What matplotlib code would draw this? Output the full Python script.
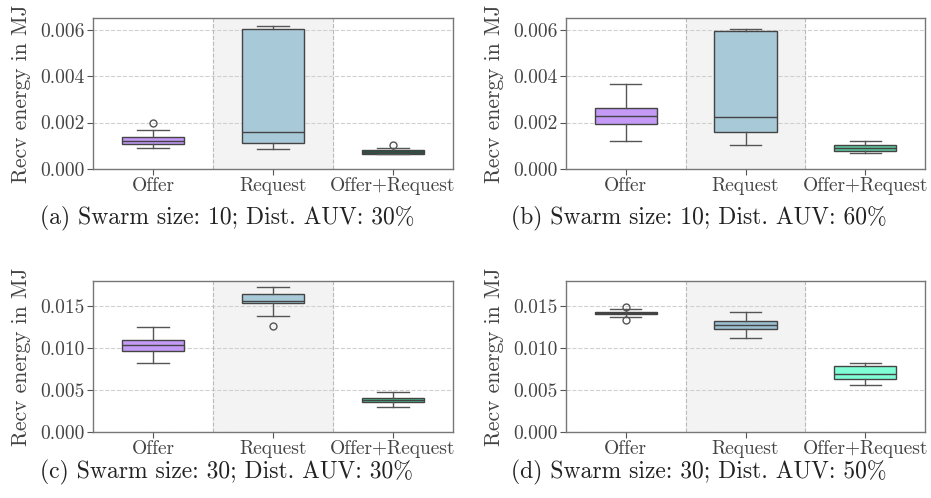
import numpy as np
import matplotlib
matplotlib.use("Agg")
from matplotlib import pyplot as plt

plt.rcParams['font.family'] = 'serif'
plt.rcParams['font.serif'] = ['cmr10']
plt.rcParams['mathtext.fontset'] = 'cm'
plt.rcParams['axes.formatter.use_mathtext'] = True

categories = ['Offer', 'Request', 'Offer+Request']
captions = ['(a) Swarm size: 10; Dist. AUV: 30%',
            '(b) Swarm size: 10; Dist. AUV: 60%',
            '(c) Swarm size: 30; Dist. AUV: 30%',
            '(d) Swarm size: 30; Dist. AUV: 50%']

# box stats per panel: Offer, Request, Offer+Request
q1_a = [0.00108, 0.00113, 0.00066]
med_a = [0.00122, 0.00159, 0.00073]
q3_a = [0.00139, 0.00603, 0.00080]
lo_a = [0.00090, 0.00085, 0.00063]
hi_a = [0.00169, 0.00617, 0.00090]
fl_a = [[0.00198], [], [0.00102]]

q1_b = [0.00194, 0.00159, 0.00079]
med_b = [0.00228, 0.00222, 0.00090]
q3_b = [0.00263, 0.00593, 0.00102]
lo_b = [0.00119, 0.00102, 0.00067]
hi_b = [0.00364, 0.00604, 0.00119]
fl_b = [[], [], []]

q1_c = [0.00964, 0.01532, 0.00357]
med_c = [0.01032, 0.01567, 0.00385]
q3_c = [0.01091, 0.01643, 0.00409]
lo_c = [0.00825, 0.01377, 0.00302]
hi_c = [0.01246, 0.01726, 0.00472]
fl_c = [[], [0.01266], []]

q1_d = [0.01405, 0.01230, 0.00631]
med_d = [0.01421, 0.01274, 0.00686]
q3_d = [0.01436, 0.01329, 0.00790]
lo_d = [0.01373, 0.01123, 0.00556]
hi_d = [0.01468, 0.01436, 0.00825]
fl_d = [[0.01496, 0.01341], [], []]

colors_a = ['#c49af6', '#a8cad8', '#1e5a45']
colors_b = ['#c49af6', '#a8cad8', '#5fc79e']
colors_c = ['#c49af6', '#a8cad8', '#4fbf8f']
colors_d = ['#3b2d5a', '#9cc0d2', '#7ffdd4']

ylims = [0.0065, 0.0065, 0.018, 0.018]
yticks_small = [0.0, 0.002, 0.004, 0.006]
yticks_big = [0.0, 0.005, 0.010, 0.015]

panels = [
    (q1_a, med_a, q3_a, lo_a, hi_a, fl_a, colors_a),
    (q1_b, med_b, q3_b, lo_b, hi_b, fl_b, colors_b),
    (q1_c, med_c, q3_c, lo_c, hi_c, fl_c, colors_c),
    (q1_d, med_d, q3_d, lo_d, hi_d, fl_d, colors_d),
]

W, H = 931, 498
fig = plt.figure(figsize=(W / 100, H / 100), dpi=100)

# pixel boxes of the axes: left, top, right, bottom
boxes = [(93, 18, 453, 169), (566, 18, 925, 169),
         (93, 281, 453, 432), (566, 281, 925, 432)]
cap_pos = [(227, 218), (699, 218), (227, 472), (699, 472)]

for i, (q1, med, q3, lo, hi, fl, cols) in enumerate(panels):
    l, t, r, b = boxes[i]
    ax = fig.add_axes([l / W, 1 - b / H, (r - l) / W, (b - t) / H])
    stats = []
    for k in range(3):
        stats.append(dict(q1=q1[k], med=med[k], q3=q3[k],
                          whislo=lo[k], whishi=hi[k], fliers=fl[k]))
    ax.axvspan(0.5, 1.5, color='#f3f3f3', zorder=0)
    for xv in [0.5, 1.5]:
        ax.axvline(xv, color='#bbbbbb', ls='--', lw=0.8, zorder=1)
    bp = ax.bxp(stats, positions=[0, 1, 2], widths=0.52, patch_artist=True,
                boxprops=dict(edgecolor='#444444', linewidth=1.0),
                medianprops=dict(color='#444444', linewidth=1.0),
                whiskerprops=dict(color='#555555', linewidth=1.0),
                capprops=dict(color='#555555', linewidth=1.0),
                flierprops=dict(marker='o', markersize=5, markerfacecolor='none',
                                markeredgecolor='#555555', markeredgewidth=1.0))
    for patch, c in zip(bp['boxes'], cols):
        patch.set_facecolor(c)
    ax.set_xlim(-0.5, 2.5)
    ax.set_ylim(0, ylims[i])
    if i < 2:
        ax.set_yticks(yticks_small)
        ax.set_yticklabels(['0.000', '0.002', '0.004', '0.006'])
    else:
        ax.set_yticks(yticks_big)
        ax.set_yticklabels(['0.000', '0.005', '0.010', '0.015'])
    ax.set_xticks([0, 1, 2])
    ax.set_xticklabels(categories)
    ax.yaxis.grid(True, color='#d0d0d0', ls='--', lw=0.8)
    ax.set_axisbelow(True)
    ax.tick_params(axis='both', labelsize=14, colors='#555555', labelcolor='#444444',
                   length=4, width=0.8, pad=2)
    for s in ax.spines.values():
        s.set_color('#777777')
        s.set_linewidth(1.0)
    fig.text((l - 72) / W, 1 - (t + b) / 2 / H, 'Recv energy in MJ', rotation=90,
             ha='center', va='center', fontsize=15.5, color='#444444')
    fig.text(cap_pos[i][0] / W, 1 - cap_pos[i][1] / H, captions[i],
             ha='center', va='center', fontsize=17, color='#222222')

fig.savefig('out.png', dpi=100)
